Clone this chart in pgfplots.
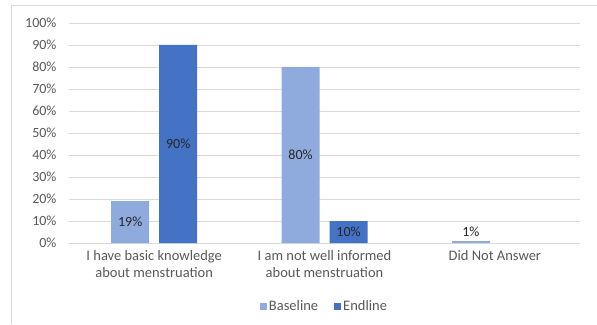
\documentclass[border=0pt]{standalone}
\usepackage{pgfplots}
\pgfplotsset{compat=1.18}
\usepackage{fontspec}
\setmainfont{Carlito}
\definecolor{base}{HTML}{8FAADC}
\definecolor{endl}{HTML}{4472C4}
\definecolor{gridc}{HTML}{D9D9D9}
\definecolor{txt}{HTML}{595959}
\definecolor{lbl}{HTML}{262626}
\begin{document}
\begin{tikzpicture}
\useasboundingbox (0,0) rectangle (597pt,324pt);
\draw[gridc, line width=1pt] (11pt,0) -- (11pt,318pt) -- (597pt,318pt);
\begin{axis}[
  at={(69pt,81pt)}, anchor=south west,
  scale only axis, width=511pt, height=220pt,
  ybar, bar width=38pt,
  xmin=-0.5, xmax=2.5, ymin=0, ymax=100,
  xtick={0,1,2},
  xticklabels={{I have basic knowledge\\about menstruation},{I am not well informed\\about menstruation},{Did Not Answer}},
  xticklabel style={align=center, font=\fontsize{14.5}{16.5}\selectfont, text=txt, yshift=-4pt},
  ytick={0,10,...,100},
  yticklabel={\pgfmathprintnumber{\tick}\%},
  yticklabel style={font=\fontsize{14}{16}\selectfont, text=txt, xshift=-9pt},
  /pgf/number format/assume math mode=true,
  major tick length=0pt,
  axis line style={draw=none},
  ymajorgrids, grid style={gridc, line width=0.9pt},
  legend style={at={(0.5,0)}, anchor=center, yshift=-63pt, draw=none, legend columns=-1,
    font=\fontsize{14.5}{16}\selectfont, text=txt,
    /tikz/every even column/.append style={column sep=14pt}},
  legend image code/.code={\fill[#1] (0pt,-3.5pt) rectangle (7pt,3.5pt);},
  nodes near coords={\pgfmathprintnumber{\pgfplotspointmeta}\%},
  every node near coord/.append style={font=\fontsize{14}{16}\selectfont, text=lbl},
]
\addplot[fill=base, draw=none, bar shift=-24pt,
  visualization depends on=y \as \rawy,
  nodes near coords align={center},
  every node near coord/.append style={anchor=center, shift={(axis direction cs:0,-\rawy/2)}}]
  coordinates {(0,19) (1,80)};
\addlegendentry{Baseline}
\addplot[fill=endl, draw=none, bar shift=24pt,
  visualization depends on=y \as \rawy,
  nodes near coords align={center},
  every node near coord/.append style={anchor=center, shift={(axis direction cs:0,-\rawy/2)}}]
  coordinates {(0,90) (1,10)};
\addlegendentry{Endline}
\addplot[fill=base, draw=none, bar shift=-24pt, forget plot,
  every node near coord/.append style={yshift=1pt}]
  coordinates {(2,1)};
\end{axis}
\end{tikzpicture}
\end{document}
